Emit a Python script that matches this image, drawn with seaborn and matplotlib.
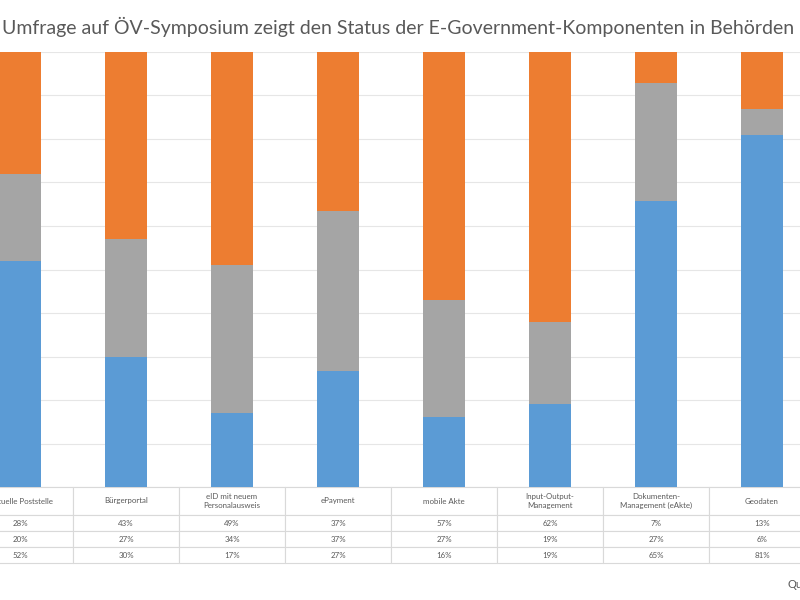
import matplotlib
matplotlib.use("Agg")
import matplotlib.pyplot as plt
import seaborn as sns
import pandas as pd
import numpy as np

# data (values in %)
categories = ["Virtuelle Poststelle", "Bürgerportal", "eID mit neuem\nPersonalausweis", "ePayment",
              "mobile Akte", "Input-Output-\nManagement", "Dokumenten-\nManagement (eAkte)", "Geodaten"]
orange_vals = [28, 43, 49, 37, 57, 62, 7, 13]
gray_vals = [20, 27, 34, 37, 27, 19, 27, 6]
blue_vals = [52, 30, 17, 27, 16, 19, 65, 81]

sns.set_theme(style="white")
plt.rcParams['font.family'] = ['Lato', 'DejaVu Sans']

c_blue, c_orange, c_gray = "#5B9BD5", "#ED7D31", "#A5A5A5"
txt = "#595959"

df = pd.DataFrame({"cat": categories, "blue": blue_vals, "gray": gray_vals, "orange": orange_vals})
# 100% stacked: scale each column to its total
total = df["blue"] + df["gray"] + df["orange"]
df["lvl_blue"] = df["blue"] / total * 100
df["lvl_gray"] = (df["blue"] + df["gray"]) / total * 100
df["lvl_orange"] = 100.0

fig = plt.figure(figsize=(8, 6), dpi=100)
# plot area is wider than the picture: the chart is cut off left and right
ax = fig.add_axes([-33 / 800, 113 / 600, 848 / 800, 435 / 600])

for col, c in [("lvl_orange", c_orange), ("lvl_gray", c_gray), ("lvl_blue", c_blue)]:
    sns.barplot(data=df, x="cat", y=col, color=c, width=0.4, saturation=1, ax=ax,
                edgecolor="none", linewidth=0)

ax.set_xlim(-0.5, len(categories) - 0.5)
ax.set_ylim(0, 100)
ax.set_yticks(np.arange(0, 101, 10))
ax.yaxis.grid(True, color="#e6e6e6", linewidth=0.8)
ax.set_axisbelow(True)
ax.set_xticks([])
ax.set_yticklabels([])
ax.set_xlabel("")
ax.set_ylabel("")
for s in ax.spines.values():
    s.set_visible(False)

# data table under the plot
cell_text = [[f"{v}%" for v in orange_vals],
             [f"{v}%" for v in gray_vals],
             [f"{v}%" for v in blue_vals]]
tbl = ax.table(cellText=cell_text, colLabels=categories, cellLoc="center",
               bbox=[0, -76 / 435, 1, 76 / 435])
tbl.auto_set_font_size(False)
tbl.set_fontsize(5.7)
for (r, c), cell in tbl.get_celld().items():
    cell.set_edgecolor("#d9d9d9")
    cell.set_linewidth(0.8)
    cell.get_text().set_color(txt)
    cell.set_height((28 if r == 0 else 16) / 435)

fig.text(0.497, 0.955, "Umfrage auf ÖV-Symposium zeigt den Status der E-Government-Komponenten in Behörden",
         ha="center", va="center", fontsize=14, color=txt)
fig.text(787 / 800, 1 - 585 / 600, "Quelle", ha="left", va="center", fontsize=8, color=txt)

fig.savefig("out.png", dpi=100)
